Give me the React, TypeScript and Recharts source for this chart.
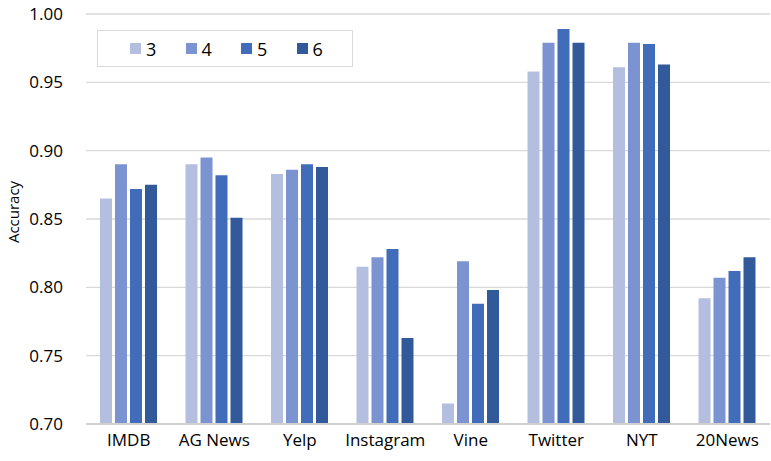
import { BarChart, Bar, XAxis, YAxis, CartesianGrid, Legend } from 'recharts';

// datasets on the x axis
const datasets = ['IMDB', 'AG News', 'Yelp', 'Instagram', 'Vine', 'Twitter', 'NYT', '20News'];

// accuracy per setting
const acc3 = [0.865, 0.890, 0.883, 0.815, 0.715, 0.958, 0.961, 0.792];
const acc4 = [0.890, 0.895, 0.886, 0.822, 0.819, 0.979, 0.979, 0.807];
const acc5 = [0.872, 0.882, 0.890, 0.828, 0.788, 0.989, 0.978, 0.812];
const acc6 = [0.875, 0.851, 0.888, 0.763, 0.798, 0.979, 0.963, 0.822];

const yTicks = [0.7, 0.75, 0.8, 0.85, 0.9, 0.95, 1.0];

const seriesList = [
  { key: 's3', name: '3', color: '#b4bfe0' },
  { key: 's4', name: '4', color: '#7b93d0' },
  { key: 's5', name: '5', color: '#416cb9' },
  { key: 's6', name: '6', color: '#325a9a' },
];

const data = datasets.map((name, i) => ({
  name,
  s3: acc3[i],
  s4: acc4[i],
  s5: acc5[i],
  s6: acc6[i],
}));

const FONT = '"Open Sans", "Noto Sans", sans-serif';

function LegendBox() {
  return (
    <div
      style={{
        width: 256,
        height: 37,
        border: '1px solid #d9d9d9',
        background: '#fff',
        display: 'flex',
        alignItems: 'center',
        paddingLeft: 32,
        boxSizing: 'border-box',
        fontFamily: FONT,
        fontSize: 18,
        color: '#000',
      }}
    >
      {seriesList.map((s) => (
        <div key={s.key} style={{ display: 'flex', alignItems: 'center', width: 57 }}>
          <span style={{ display: 'inline-block', width: 11, height: 11, background: s.color, marginRight: 5 }} />
          <span>{s.name}</span>
        </div>
      ))}
    </div>
  );
}

export default function App() {
  return (
    <div style={{ position: 'absolute', left: 0, top: 0, background: '#fff' }}>
      <BarChart
        width={771}
        height={461}
        data={data}
        margin={{ top: 14, right: 1, bottom: 7, left: 0 }}
        barSize={12}
        barGap={3}
      >
        <CartesianGrid vertical={false} stroke="#d9d9d9" strokeWidth={1.3} />
        <XAxis
          dataKey="name"
          height={30}
          tickLine={false}
          tickSize={0}
          tickMargin={10}
          interval={0}
          axisLine={{ stroke: '#d0d0d0', strokeWidth: 2 }}
          tick={{ fontFamily: FONT, fontSize: 17, fill: '#000' }}
        />
        <YAxis
          width={86}
          domain={[0.7, 1.0]}
          ticks={yTicks}
          allowDataOverflow
          tickFormatter={(v: number) => v.toFixed(2)}
          tickLine={false}
          axisLine={false}
          tickSize={0}
          tickMargin={23}
          tick={{ fontFamily: FONT, fontSize: 17, fill: '#000' }}
          label={{
            value: 'Accuracy',
            angle: -90,
            position: 'insideLeft',
            dx: 9,
            dy: -7,
            style: { fontFamily: FONT, fontSize: 15, fill: '#000', textAnchor: 'middle' },
          }}
        />
        <Legend
          content={<LegendBox />}
          layout="horizontal"
          verticalAlign="middle"
          align="center"
          wrapperStyle={{ left: 97, top: 30, width: 256 }}
        />
        {seriesList.map((s) => (
          <Bar key={s.key} dataKey={s.key} name={s.name} fill={s.color} isAnimationActive={false} />
        ))}
      </BarChart>
    </div>
  );
}
